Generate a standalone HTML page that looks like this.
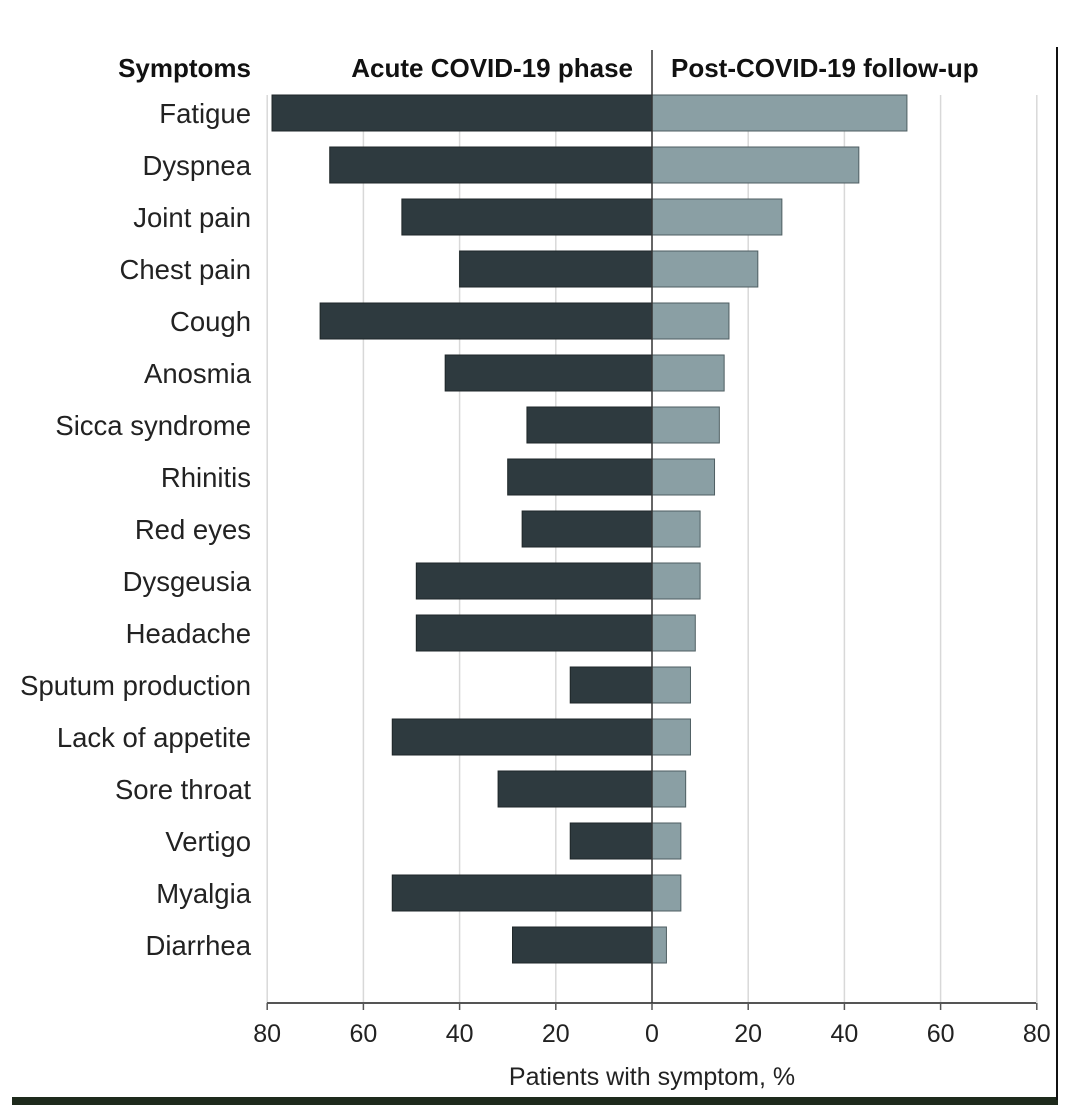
<!DOCTYPE html>
<html><head><meta charset="utf-8"><style>
html,body{margin:0;padding:0;background:#fff;width:1080px;height:1118px;overflow:hidden}
svg{display:block;font-family:"Liberation Sans Narrow","Liberation Sans",sans-serif}
</style></head><body>
<svg id="chart" width="1080" height="1118">
<rect x="12" y="1097" width="1046" height="8" fill="#1e2a1c"/>
<line x1="1057" y1="47" x2="1057" y2="1100" stroke="#111" stroke-width="2"/>
<g id="grid"></g><g id="bars"></g><g id="labels"></g><g id="axis"></g>
</svg>
<script>
const categories=["Fatigue","Dyspnea","Joint pain","Chest pain","Cough","Anosmia","Sicca syndrome","Rhinitis","Red eyes","Dysgeusia","Headache","Sputum production","Lack of appetite","Sore throat","Vertigo","Myalgia","Diarrhea"];
const acuteValues=[79,67,52,40,69,43,26,30,27,49,49,17,54,32,17,54,29];
const postValues=[53,43,27,22,16,15,14,13,10,10,9,8,8,7,6,6,3];
const tickValues=[-80,-60,-40,-20,0,20,40,60,80];
const tickLabels=["80","60","40","20","0","20","40","60","80"];
const NS="http://www.w3.org/2000/svg";
const x0=652,ppu=4.81;
function xs(v){return x0+v*ppu;}
function yc(i){return 113+i*52;}
function mk(tag,attrs,parent,text){const e=document.createElementNS(NS,tag);for(const k in attrs)e.setAttribute(k,attrs[k]);if(text!=null)e.textContent=text;document.getElementById(parent).appendChild(e);return e;}
tickValues.forEach((v,i)=>{
  if(v!==0){const g=mk('line',{x1:xs(v),x2:xs(v),y1:95,y2:1003,stroke:'#d8d8d8','stroke-width':1.5},'grid');
  
  }
  const t=mk('line',{x1:xs(v),x2:xs(v),y1:1003,y2:1010,stroke:'#555','stroke-width':1.5},'axis');
  
  
  const l=mk('text',{x:xs(v),y:1042,'text-anchor':'middle','font-size':25,fill:'#222'},'axis',tickLabels[i]);
  
  
});
categories.forEach((c,i)=>{
  const a=mk('rect',{x:xs(-acuteValues[i]),y:yc(i)-18,width:acuteValues[i]*ppu,height:36,fill:'#2e3a3f',stroke:'#1e2628','stroke-width':1},'bars');
  
  
  const p=mk('rect',{x:x0,y:yc(i)-18,width:postValues[i]*ppu,height:36,fill:'#8a9fa4',stroke:'#4e5e62','stroke-width':1},'bars');
  
  
  const t=mk('text',{x:251,y:yc(i)+10,'text-anchor':'end','font-size':27.5,fill:'#222'},'labels',c);
  
  
});
const ax=mk('line',{x1:267,x2:1036,y1:1003,y2:1003,stroke:'#555','stroke-width':2},'axis');


const zl=mk('line',{x1:x0,x2:x0,y1:50,y2:1003,stroke:'#333','stroke-width':1.5},'axis');


const h1=mk('text',{x:251,y:77,'text-anchor':'end','font-size':26,'font-weight':'bold',fill:'#111'},'labels','Symptoms');


const h2=mk('text',{x:633,y:77,'text-anchor':'end','font-size':26,'font-weight':'bold',fill:'#111'},'labels','Acute COVID-19 phase');


const h3=mk('text',{x:671,y:77,'font-size':26,'font-weight':'bold',fill:'#111'},'labels','Post-COVID-19 follow-up');


const xt=mk('text',{x:652,y:1085,'text-anchor':'middle','font-size':25,fill:'#222'},'axis','Patients with symptom, %');


</script>
</body></html>
